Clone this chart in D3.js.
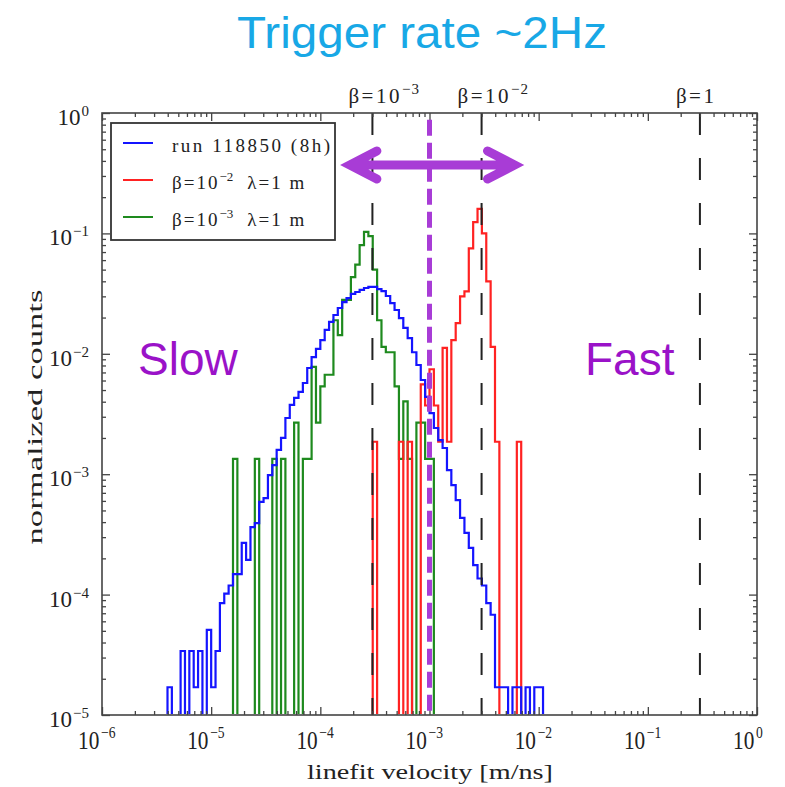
<!DOCTYPE html>
<html><head><meta charset="utf-8">
<script src="https://cdn.jsdelivr.net/npm/d3@7/dist/d3.min.js"></script>
<style>body{margin:0;background:#fff}svg{display:block}</style>
</head><body>
<svg id="c" width="785" height="787"></svg>
<script>
// ---- data ----
const binStartLog = -5.40;   // log10 of the first bin's left edge (m/ns)
const binStepLog = 0.04;     // bin width in decades
const runCounts = [
 1.7e-5,0,0,3.4e-5,0,3.4e-5,1.7e-5,3.4e-5,0,5.1e-5,
 1.7e-5,3.4e-5,8.5e-5,1.02e-4,1.19e-4,1.48e-4,1.48e-4,2.69e-4,1.94e-4,3.64e-4,
 3.93e-4,5.88e-4,6.34e-4,9.84e-4,1.19e-3,1.59e-3,2.0e-3,2.93e-3,3.76e-3,4.3e-3,
 4.82e-3,5.72e-3,7.62e-3,9.4e-3,0.011,0.013,0.0158,0.0184,0.021,0.024,
 0.0269,0.029,0.0314,0.0326,0.0339,0.0352,0.0359,0.0359,0.0345,0.0332,
 0.0302,0.0264,0.0231,0.0198,0.0164,0.0135,0.0103,8.07e-3,6.06e-3,4.38e-3,
 3.22e-3,2.42e-3,1.92e-3,1.65e-3,1.08e-3,8.13e-4,6.1e-4,4.33e-4,3.25e-4,2.44e-4,
 1.76e-4,1.36e-4,1.19e-4,8.5e-5,6.8e-5,1.7e-5,1.7e-5,1.7e-5,0,1.7e-5,
 1.7e-5,0,1.7e-5,0,1.7e-5,1.7e-5
];
const beta2Counts = [
 0,0,0,0,0,0,0,0,0,0, 0,0,0,0,0,0,0,0,0,0,
 0,0,0,0,0,0,0,0,0,0, 0,0,0,0,0,0,0,0,0,0,
 0,0,0,0,0,0,0,1.86e-3,0,0, 0,0,0,1.86e-3,0,1.86e-3,0,0,5.58e-3,3.72e-3,
 7.44e-3,3.72e-3,1.86e-3,0.0112,1.86e-3,0.013,0.018,0.03,0.033,0.075,
 0.124,0.16,0.1,0.04,0.0114,1.86e-3,0,0,0,0,
 1.86e-3,0,0,0,0,0
];
const beta3Counts = [
 0,0,0,0,0,0,0,0,0,0, 0,0,0,0,0,1.34e-3,0,0,0,0,
 1.34e-3,0,0,0,1.34e-3,0,1.34e-3,0,0,2.68e-3,
 0,1.34e-3,1.34e-3,7.8e-3,2.68e-3,5.36e-3,6.7e-3,6.7e-3,0.019,0.0143,
 0.028,0.028,0.0434,0.055,0.08,0.103,0.095,0.05,0.019,0.0114,
 0.0103,0.0103,5.36e-3,1.34e-3,4.02e-3,1.34e-3,0,2.68e-3,2.68e-3,1.34e-3,
 1.34e-3,0,0,0,0,0,0,0,0,0, 0,0,0,0,0,0,0,0,0,0, 0,0,0,0,0,0
];
const xTickValues = [1e-6,1e-5,1e-4,1e-3,1e-2,1e-1,1];
const xTickExps = ["-6","-5","-4","-3","-2","-1","0"];
const yTickValues = [1e-5,1e-4,1e-3,1e-2,1e-1,1];
const yTickExps = ["-5","-4","-3","-2","-1","0"];
const betaVelocities = [3e-4, 3e-3, 0.3];
const betaLabelBase = ["β=10","β=10","β=1"];
const betaLabelExp = ["−3","−2",""];
const legendLabels = [["run 118850 (8h)","",""],["β=10","−2","λ=1 m"],["β=10","−3","λ=1 m"]];
const triggerVelocity = 1e-3;
const arrowFrom = 1.75e-4, arrowTo = 6.4e-3, arrowLevel = 0.37;
const titleText = "Trigger rate ~2Hz";

// ---- layout ----
const svg = d3.select("#c");
const L = 102, R = 757, T = 113, B = 715;
const x = d3.scaleLog().domain([1e-6, 1]).range([L, R]);
const y = d3.scaleLog().domain([1e-5, 1]).range([B, T]);
const serif = "'Liberation Serif','Times New Roman',serif";
const sans = "'Liberation Sans',Arial,sans-serif";
const colors = {run:"#1414ff", b2:"#ff2222", b3:"#1e8a1e", purple:"#a83cd6", text:"#9a12c8", title:"#18a8e6"};

svg.append("defs").append("clipPath").attr("id","pc")
  .append("rect").attr("x",L).attr("y",T).attr("width",R-L).attr("height",B-T-1);

// title
svg.append("text").attr("x",422).attr("y",48).attr("text-anchor","middle")
  .attr("font-family",sans).attr("font-size",45).attr("fill",colors.title)
  .attr("textLength",370).attr("lengthAdjust","spacingAndGlyphs").text(titleText);

// histograms
const edge = k => x(Math.pow(10, binStartLog + binStepLog*k));
function histPath(vals){
  const base = B + 2;
  let d = `M${edge(0)},${base}`;
  vals.forEach((v,k)=>{
    const yy = v > 0 ? y(v) : base;
    d += `L${edge(k)},${yy}L${edge(k+1)},${yy}`;
  });
  d += `L${edge(vals.length)},${base}`;
  return d;
}
const gh = svg.append("g").attr("clip-path","url(#pc)");
[[beta3Counts,colors.b3],[beta2Counts,colors.b2],[runCounts,colors.run]].forEach(([v,c])=>{
  gh.append("path").attr("d",histPath(v)).attr("fill","none").attr("stroke",c)
    .attr("stroke-width",2.2).attr("stroke-linejoin","miter");
});

// beta dashed lines
svg.append("g").selectAll("line").data(betaVelocities).join("line")
  .attr("x1",d=>x(d)).attr("x2",d=>x(d)).attr("y1",y(1)).attr("y2",y(1e-5))
  .attr("stroke","#222").attr("stroke-width",2).attr("stroke-dasharray","22,23");

// axes ticks (inward)
const minors = [];
for (let e=-6;e<0;e++) for (let m=2;m<10;m++) minors.push(m*Math.pow(10,e));
const yMinors = minors.filter(v=>v>=1e-5);
function tickAxis(axisFn, scale, vals, size, tr){
  const g = svg.append("g").attr("transform",tr)
    .call(axisFn(scale).tickValues(vals).tickSize(-size).tickFormat(""));
  g.select(".domain").remove();
  g.selectAll(".tick line").attr("stroke","#444").attr("stroke-width",1.3);
}
tickAxis(d3.axisBottom,x,xTickValues,8,`translate(0,${B})`);
tickAxis(d3.axisBottom,x,minors,4,`translate(0,${B})`);
tickAxis(d3.axisTop,x,xTickValues,8,`translate(0,${T})`);
tickAxis(d3.axisTop,x,minors,4,`translate(0,${T})`);
tickAxis(d3.axisLeft,y,yTickValues,8,`translate(${L},0)`);
tickAxis(d3.axisLeft,y,yMinors,4,`translate(${L},0)`);
tickAxis(d3.axisRight,y,yTickValues,8,`translate(${R},0)`);
tickAxis(d3.axisRight,y,yMinors,4,`translate(${R},0)`);

// frame
svg.append("rect").attr("x",L).attr("y",T).attr("width",R-L).attr("height",B-T)
  .attr("fill","none").attr("stroke","#444").attr("stroke-width",1.6);

// x tick labels
xTickValues.forEach((v,i)=>{
  const g = svg.append("g").attr("transform",`translate(${x(v)-1},749) scale(0.85,1)`)
    .attr("font-family",serif).attr("fill","#222");
  g.append("text").attr("text-anchor","end").attr("x",-2).attr("font-size",25).text("10");
  g.append("text").attr("text-anchor","start").attr("x",0).attr("y",-11).attr("font-size",16)
    .text(xTickExps[i].replace("-","−"));
});
// y tick labels
yTickValues.forEach((v,i)=>{
  const g = svg.append("g").attr("font-family",serif).attr("fill","#222");
  const s = g.append("text").attr("text-anchor","end").attr("x",89).attr("y",y(v)+3)
    .attr("font-size",15).text(yTickExps[i].replace("-","−"));
  const w = s.node().getComputedTextLength();
  g.append("text").attr("text-anchor","end").attr("x",89-w-1).attr("y",y(v)+12)
    .attr("font-size",23).text("10");
});

// beta labels on top
betaVelocities.forEach((v,i)=>{
  const t = svg.append("text").attr("x",x(v)-24).attr("y",103).attr("font-family",serif)
    .attr("font-size",21).attr("fill","#222").attr("letter-spacing",2.5);
  t.append("tspan").text(betaLabelBase[i]);
  if (betaLabelExp[i]) t.append("tspan").attr("dy",-9).attr("font-size",15).attr("letter-spacing",1).text(betaLabelExp[i]);
});

// axis titles
svg.append("text").attr("x",430).attr("y",779).attr("text-anchor","middle")
  .attr("font-family",serif).attr("font-size",20).attr("fill","#222")
  .attr("textLength",246).attr("lengthAdjust","spacingAndGlyphs").text("linefit velocity [m/ns]");
svg.append("text").attr("transform","translate(42,417) rotate(-90)").attr("text-anchor","middle")
  .attr("font-family",serif).attr("font-size",20).attr("fill","#222")
  .attr("textLength",255).attr("lengthAdjust","spacingAndGlyphs").text("normalized counts");

// Slow / Fast
svg.append("text").attr("x",138).attr("y",375).attr("font-family",sans).attr("font-size",46)
  .attr("fill",colors.text).text("Slow");
svg.append("text").attr("x",585).attr("y",375).attr("font-family",sans).attr("font-size",46)
  .attr("fill",colors.text).text("Fast");

// legend
const lg = svg.append("g");
lg.append("rect").attr("x",111).attr("y",123).attr("width",224).attr("height",117)
  .attr("fill","#fff").attr("stroke","#333").attr("stroke-width",1.8);
const legColors = [colors.run, colors.b2, colors.b3];
legendLabels.forEach((lab,i)=>{
  const yy = 143 + i*37;
  lg.append("line").attr("x1",123).attr("x2",153).attr("y1",yy).attr("y2",yy)
    .attr("stroke",legColors[i]).attr("stroke-width",2);
  const t = lg.append("text").attr("x",172).attr("y",yy+9).attr("font-family",serif)
    .attr("font-size",19).attr("fill","#222");
  if (i===0){
    t.attr("textLength",158).attr("lengthAdjust","spacing").text(lab[0]);
  } else {
    t.attr("letter-spacing",2);
    t.append("tspan").text(lab[0]);
    t.append("tspan").attr("dy",-8).attr("font-size",13).attr("letter-spacing",0).text(lab[1]);
    t.append("tspan").attr("dy",8).attr("dx",14).text(lab[2]);
  }
});

// trigger line + arrow
svg.append("line").attr("x1",x(triggerVelocity)).attr("x2",x(triggerVelocity))
  .attr("y1",y(0.88)).attr("y2",y(1e-5)).attr("stroke",colors.purple).attr("stroke-width",5)
  .attr("stroke-dasharray","16,7");
const ax0 = x(arrowFrom), ax1 = x(arrowTo), ay = y(arrowLevel);
svg.append("path")
  .attr("d",`M${ax0+4},${ay}L${ax1-4},${ay}M${ax0+30},${ay-14}L${ax0+3},${ay}L${ax0+30},${ay+14}M${ax1-30},${ay-14}L${ax1-3},${ay}L${ax1-30},${ay+14}`)
  .attr("fill","none").attr("stroke",colors.purple).attr("stroke-width",9)
  .attr("stroke-linecap","round").attr("stroke-linejoin","miter");
</script>
</body></html>
